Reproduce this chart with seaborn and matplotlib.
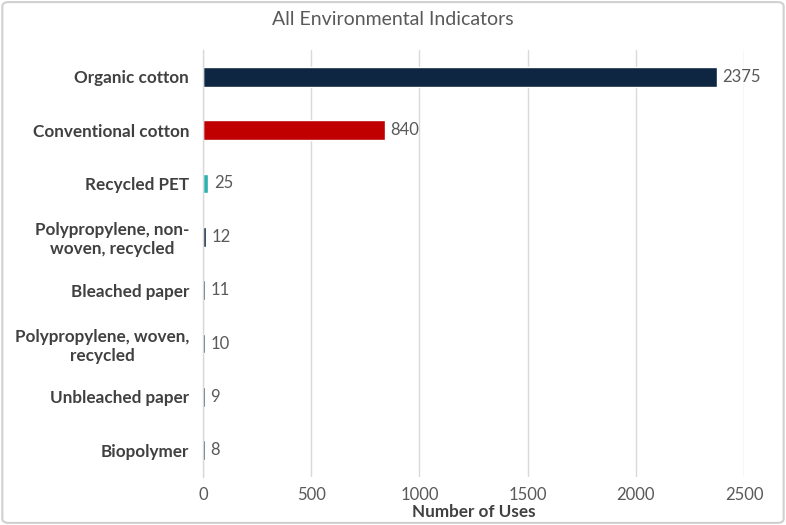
import matplotlib
matplotlib.use("Agg")
import matplotlib.pyplot as plt
import seaborn as sns
import pandas as pd
from matplotlib.patches import FancyBboxPatch

categories = ["Organic cotton", "Conventional cotton", "Recycled PET",
              "Polypropylene, non-\nwoven, recycled", "Bleached paper",
              "Polypropylene, woven,\nrecycled", "Unbleached paper", "Biopolymer"]
values = [2375, 840, 25, 12, 11, 10, 9, 8]
colors = ["#0e2641", "#c00000", "#2bb1ad", "#0e2641", "#0e2641", "#0e2641", "#0e2641", "#0e2641"]
x_ticks = [0, 500, 1000, 1500, 2000, 2500]

sns.set_theme(style="white")
plt.rcParams['font.family'] = ['Lato', 'DejaVu Sans']

df = pd.DataFrame({"cat": categories, "val": values})

fig = plt.figure(figsize=(7.86, 5.25), dpi=100)
ax = fig.add_axes([203 / 786, 0.0914, 541 / 786, 0.8134])

sns.barplot(data=df, y="cat", x="val", hue="cat", palette=colors, legend=False,
            width=0.37, ax=ax, orient="h", saturation=1)

ax.set_xlim(0, 2500)
ax.set_xticks(x_ticks)
ax.xaxis.grid(True, color="#d9d9d9", linewidth=1)
ax.set_axisbelow(True)
for s in ["top", "right", "bottom"]:
    ax.spines[s].set_visible(False)
ax.spines["left"].set_color("#d9d9d9")
ax.spines["left"].set_linewidth(1)

ax.tick_params(axis="x", colors="#595959", labelsize=12, length=0, pad=7)
ax.tick_params(axis="y", length=0, pad=10)
for lbl in ax.get_yticklabels():
    lbl.set_fontweight("bold")
    lbl.set_color("#404040")
    lbl.set_fontsize(12.3)
    lbl.set_multialignment("center")

ax.set_ylabel("")
ax.set_xlabel("Number of Uses", fontsize=12.3, fontweight="bold", color="#404040", labelpad=1)

for i, v in enumerate(values):
    ax.annotate(f"{v}", (v, i), xytext=(4, 0), textcoords="offset points",
                va="center", ha="left", fontsize=12, color="#595959")

fig.text(0.5, 0.962, "All Environmental Indicators", ha="center", va="center",
         fontsize=14, color="#595959")

border = FancyBboxPatch((0.003, 0.004), 0.994, 0.992, boxstyle="round,pad=0,rounding_size=0.008",
                        transform=fig.transFigure, fill=False, edgecolor="#d0d0d0", linewidth=1.5)
fig.patches.append(border)

fig.savefig("out.png", dpi=100)
